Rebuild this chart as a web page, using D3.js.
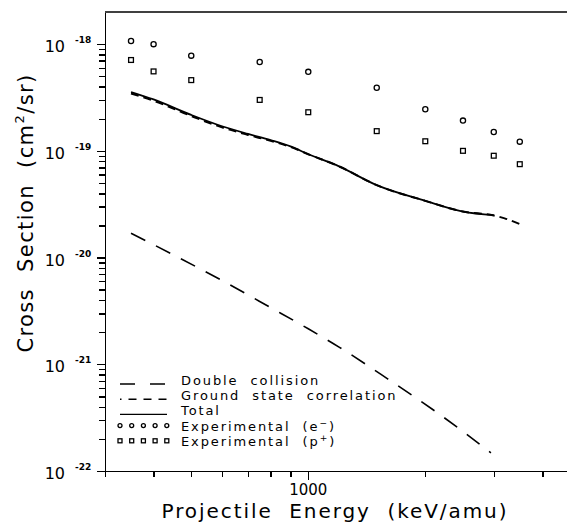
<!DOCTYPE html>
<html>
<head>
<meta charset="utf-8">
<title>Cross Section vs Projectile Energy</title>
<style>
body { margin: 0; background: #fff; }
svg { display: block; font-family: "DejaVu Sans", sans-serif; }
.axis path, .axis line { stroke: #000; stroke-width: 1.4; fill: none; shape-rendering: crispEdges; }
.axis text { display: none; }
.curve { fill: none; stroke: #000; }
.marker { fill: none; stroke: #000; stroke-width: 1.3; }
.legend text { font-size: 13px; letter-spacing: 1.9px; white-space: pre; }
</style>
</head>
<body>
<div id="vis"></div>
<script src="https://cdn.jsdelivr.net/npm/d3@7"></script>
<script>

// experimental points
var energyExp = [350, 400, 500, 750, 1000, 1500, 2000, 2500, 3000, 3500];
var sigmaElectron = [1.07e-18, 1.0e-18, 7.8e-19, 6.8e-19, 5.5e-19, 3.9e-19, 2.45e-19, 1.92e-19, 1.5e-19, 1.22e-19];
var sigmaProton = [7.1e-19, 5.55e-19, 4.6e-19, 3.0e-19, 2.3e-19, 1.53e-19, 1.23e-19, 1.0e-19, 9.0e-20, 7.5e-20];

// theory curves
var energyTotal = [350, 400, 500, 600, 700, 800, 900, 1000, 1200, 1500, 2000, 2500, 3000];
var sigmaTotal = [3.55e-19, 3.03e-19, 2.17e-19, 1.70e-19, 1.44e-19, 1.26e-19, 1.10e-19, 9.3e-20, 7.15e-20, 4.77e-20, 3.4e-20, 2.7e-20, 2.5e-20];

var energyGround = [350, 400, 500, 600, 700, 800, 900, 1000, 1200, 1500, 2000, 2500, 3000, 3200, 3500];
var sigmaGround = [3.45e-19, 2.95e-19, 2.12e-19, 1.66e-19, 1.41e-19, 1.24e-19, 1.09e-19, 9.3e-20, 7.15e-20, 4.77e-20, 3.4e-20, 2.7e-20, 2.48e-20, 2.33e-20, 2.06e-20];

var energyDouble = [350, 450, 600, 800, 1000, 1200, 1600, 2200, 2950];
var sigmaDouble = [1.69e-20, 1.06e-20, 6.1e-21, 3.4e-21, 2.15e-21, 1.45e-21, 7.3e-22, 3.3e-22, 1.48e-22];

// ticks
var xMinorTicks = [300, 400, 500, 600, 700, 800, 900, 2000, 3000, 4000];
var xMajorTicks = [1000];
var yDecades = [-22, -21, -20, -19, -18];

var legendLabels = ["Double  collision", "Ground  state  correlation", "Total", "Experimental  ", "Experimental  "];
var legendSup = [null, null, null, ["e", "\u2212"], ["p", "+"]];

var width = 567, height = 523;

var x = d3.scaleLog().domain([300, 5000]).range([105, 580]);
var y = d3.scaleLog().domain([1e-22, 2e-18]).range([471, 12]);

var svg = d3.select("#vis").append("svg")
    .attr("width", width)
    .attr("height", height);

svg.append("rect").attr("width", width).attr("height", height).attr("fill", "#fff");

// minor y ticks: 2..9 in each decade
var yMinor = [];
yDecades.slice(0, -1).forEach(function(k) {
  for (var m = 2; m <= 9; m++) yMinor.push(m * Math.pow(10, k));
});
var yMajor = yDecades.map(function(k) { return Math.pow(10, k); });

svg.append("g").attr("class", "axis")
    .attr("transform", "translate(" + x.range()[0] + ",0)")
    .call(d3.axisLeft(y).tickValues(yMinor).tickSize(6).tickSizeOuter(0));
svg.append("g").attr("class", "axis")
    .attr("transform", "translate(" + x.range()[0] + ",0)")
    .call(d3.axisLeft(y).tickValues(yMajor).tickSize(8).tickSizeOuter(0));

svg.append("g").attr("class", "axis")
    .attr("transform", "translate(0," + y.range()[0] + ")")
    .call(d3.axisBottom(x).tickValues(xMinorTicks).tickSize(6).tickSizeOuter(0));
svg.append("g").attr("class", "axis")
    .attr("transform", "translate(0," + y.range()[0] + ")")
    .call(d3.axisBottom(x).tickValues(xMajorTicks).tickSize(9).tickSizeOuter(0));

// top frame line
svg.append("line")
    .attr("x1", x.range()[0]).attr("x2", x.range()[1])
    .attr("y1", y.range()[1]).attr("y2", y.range()[1])
    .attr("stroke", "#000").attr("stroke-width", 1.4);

// y tick labels 10^k
yDecades.forEach(function(k) {
  var yy = y(Math.pow(10, k));
  svg.append("text")
      .attr("x", 65).attr("y", yy + 8)
      .attr("text-anchor", "end")
      .style("font-size", "16px")
      .text("10");
  svg.append("text")
      .attr("x", 75).attr("y", yy - 1)
      .style("font-size", "9px")
      .style("font-weight", "bold")
      .text("-" + Math.abs(k));
});

// x tick label
svg.append("text")
    .attr("x", x(1000)).attr("y", 495)
    .attr("text-anchor", "middle")
    .style("font-size", "15px")
    .text("1000");

// axis titles
svg.append("text")
    .attr("x", 334).attr("y", 518)
    .attr("text-anchor", "middle")
    .attr("textLength", 345)
    .attr("lengthAdjust", "spacing")
    .style("font-size", "20px")
    .style("white-space", "pre")
    .text("Projectile  Energy  (keV/amu)");

var yTitle = svg.append("text")
    .attr("transform", "translate(33,213) rotate(-90)")
    .attr("text-anchor", "middle")
    .style("font-size", "21px")
    .style("letter-spacing", "1.4px")
    .style("white-space", "pre");
yTitle.append("tspan").text("Cross  Section  (cm");
yTitle.append("tspan").attr("dy", -9).style("font-size", "13px").text("2");
yTitle.append("tspan").attr("dy", 9).text("/sr)");

// curves
function pts(xs, ys) { return xs.map(function(d, i) { return [d, ys[i]]; }); }
var line = d3.line()
    .x(function(d) { return x(d[0]); })
    .y(function(d) { return y(d[1]); })
    .curve(d3.curveMonotoneX);

svg.append("path").attr("class", "curve")
    .attr("d", line(pts(energyDouble, sigmaDouble)))
    .attr("stroke-width", 1.6)
    .attr("stroke-dasharray", "16,12");

svg.append("path").attr("class", "curve")
    .attr("d", line(pts(energyGround, sigmaGround)))
    .attr("stroke-width", 2)
    .attr("stroke-dasharray", "8,5");

svg.append("path").attr("class", "curve")
    .attr("d", line(pts(energyTotal, sigmaTotal)))
    .attr("stroke-width", 1.8);

// markers
svg.selectAll(".circ")
    .data(pts(energyExp, sigmaElectron))
    .enter().append("circle")
    .attr("class", "marker circ")
    .attr("cx", function(d) { return x(d[0]); })
    .attr("cy", function(d) { return y(d[1]); })
    .attr("r", 2.6);

svg.selectAll(".sq")
    .data(pts(energyExp, sigmaProton))
    .enter().append("rect")
    .attr("class", "marker sq")
    .attr("x", function(d) { return x(d[0]) - 2.4; })
    .attr("y", function(d) { return y(d[1]) - 2.4; })
    .attr("width", 4.8).attr("height", 4.8);

// legend
var legend = svg.append("g").attr("class", "legend");
var lx0 = 120, lx1 = 167, ltx = 181, ly0 = 385, ldy = 15.2;

legendLabels.forEach(function(lab, i) {
  var by = ly0 + i * ldy;
  if (i === 0) {
    legend.append("line").attr("x1", lx0).attr("x2", lx1).attr("y1", by - 1).attr("y2", by - 1)
        .attr("stroke", "#000").attr("stroke-width", 1.4).attr("stroke-dasharray", "15,15");
  } else if (i === 1) {
    legend.append("line").attr("x1", lx0).attr("x2", lx1).attr("y1", by - 1).attr("y2", by - 1)
        .attr("stroke", "#000").attr("stroke-width", 1.4).attr("stroke-dasharray", "8,7")
        .attr("stroke-dashoffset", 6.5);
  } else if (i === 2) {
    legend.append("line").attr("x1", lx0).attr("x2", lx1).attr("y1", by - 1).attr("y2", by - 1)
        .attr("stroke", "#000").attr("stroke-width", 1.4);
  } else {
    var xs = d3.range(5).map(function(j) { return lx0 + j * 11.7; });
    xs.forEach(function(cx) {
      if (i === 3) {
        legend.append("circle").attr("class", "marker").attr("cx", cx).attr("cy", by - 5).attr("r", 2);
      } else {
        legend.append("rect").attr("class", "marker").attr("x", cx - 2).attr("y", by - 7)
            .attr("width", 4).attr("height", 4);
      }
    });
  }
  var t = legend.append("text").attr("x", ltx).attr("y", by).text(lab);
  if (legendSup[i]) {
    t.append("tspan").text("(" + legendSup[i][0]);
    t.append("tspan").attr("dy", -5).style("font-size", "9px").text(legendSup[i][1]);
    t.append("tspan").attr("dy", 5).text(")");
  }
});

</script>
</body>
</html>
